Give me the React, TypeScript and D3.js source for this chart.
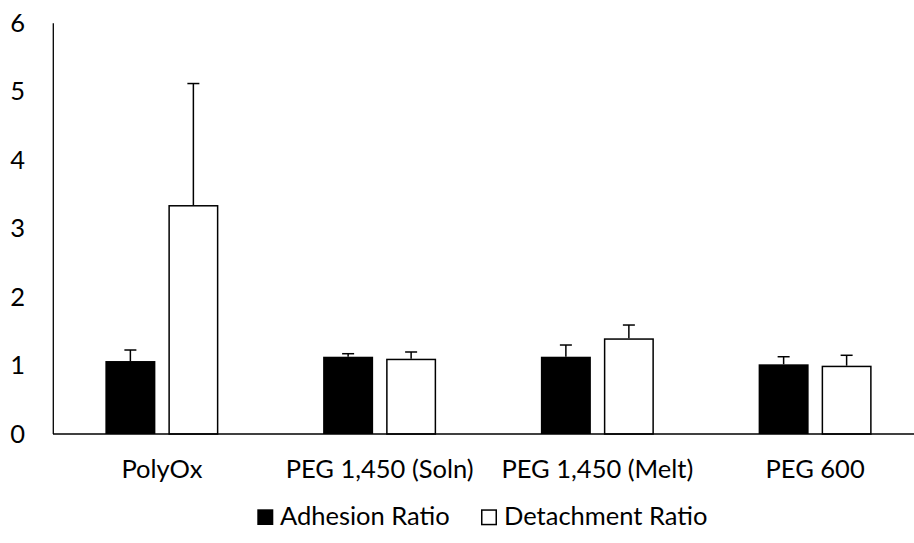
import React from "react";
import * as d3 from "d3";

const categories = ["PolyOx", "PEG 1,450 (Soln)", "PEG 1,450 (Melt)", "PEG 600"];
const seriesNames = ["Adhesion Ratio", "Detachment Ratio"];
const adhesion = [1.066, 1.129, 1.129, 1.018];
const adhesionErr = [0.161, 0.044, 0.171, 0.111];
const detachment = [3.345, 1.1, 1.398, 0.998];
const detachmentErr = [1.775, 0.098, 0.194, 0.152];
const yTicks = [0, 1, 2, 3, 4, 5, 6];

const W = 914;
const H = 543;
const FONT = "Lato, 'Open Sans', sans-serif";
const FS = 25.5;
const LEGEND_BASE = 525;

export default function App() {
  const y = d3.scaleLinear().domain([0, 6]).range([434, 23.3]);
  const x = d3.scaleBand<string>().domain(categories).range([53, 924]).padding(0);
  const sub = d3
    .scaleBand<string>()
    .domain(seriesNames)
    .range([0, 113])
    .paddingInner(0.2063)
    .paddingOuter(0);
  const seriesVals = [adhesion, detachment];
  const seriesErr = [adhesionErr, detachmentErr];
  const fills = ["#000000", "#ffffff"];
  const bw = sub.bandwidth();
  const capHalf = 6;

  return (
    <svg
      width={W}
      height={H}
      style={{ position: "absolute", left: 0, top: 0, background: "#fff" }}
      fontFamily={FONT}
    >
      <rect x={0} y={0} width={W} height={H} fill="#fff" />
      {/* y tick labels */}
      {yTicks.map((t) => (
        <text key={t} x={25} y={y(t) + 8.5} textAnchor="end" fontSize={FS} fill="#000">
          {t}
        </text>
      ))}
      {/* bars */}
      {categories.map((c, ci) => {
        const cx = (x(c) as number) + x.bandwidth() / 2 - 56.5;
        return (
          <g key={c}>
            {seriesNames.map((s, si) => {
              const v = seriesVals[si][ci];
              const e = seriesErr[si][ci];
              const bx = cx + (sub(s) as number);
              const mid = bx + bw / 2;
              const isWhite = si === 1;
              return (
                <g key={s}>
                  <line x1={mid} x2={mid} y1={y(v)} y2={y(v + e)} stroke="#000" strokeWidth={1.5} />
                  <line
                    x1={mid - capHalf}
                    x2={mid + capHalf}
                    y1={y(v + e)}
                    y2={y(v + e)}
                    stroke="#000"
                    strokeWidth={1.5}
                  />
                  <rect
                    x={isWhite ? bx + 0.75 : bx}
                    y={isWhite ? y(v) + 0.75 : y(v)}
                    width={isWhite ? bw - 1.5 : bw}
                    height={isWhite ? y(0) - y(v) - 0.75 : y(0) - y(v)}
                    fill={fills[si]}
                    stroke={isWhite ? "#000" : "none"}
                    strokeWidth={1.5}
                  />
                </g>
              );
            })}
          </g>
        );
      })}
      {/* axes */}
      <line x1={53.3} x2={53.3} y1={23.3} y2={434} stroke="#000" strokeWidth={1.3} />
      <line x1={53} x2={W} y1={434} y2={434} stroke="#000" strokeWidth={1.5} />
      {/* category labels */}
      {categories.map((c) => (
        <text
          key={c}
          x={(x(c) as number) + x.bandwidth() / 2}
          y={478.3}
          textAnchor="middle"
          fontSize={FS}
          fill="#000"
        >
          {c}
        </text>
      ))}
      {/* legend */}
      <rect x={257.3} y={LEGEND_BASE - 15.7} width={16} height={15.7} fill="#000" />
      <text x={280} y={LEGEND_BASE} fontSize={FS} fill="#000">
        {seriesNames[0]}
      </text>
      <rect
        x={481.75}
        y={LEGEND_BASE - 14.95}
        width={14.5}
        height={14.5}
        fill="#fff"
        stroke="#000"
        strokeWidth={1.5}
      />
      <text x={504} y={LEGEND_BASE} fontSize={FS} fill="#000">
        {seriesNames[1]}
      </text>
    </svg>
  );
}
